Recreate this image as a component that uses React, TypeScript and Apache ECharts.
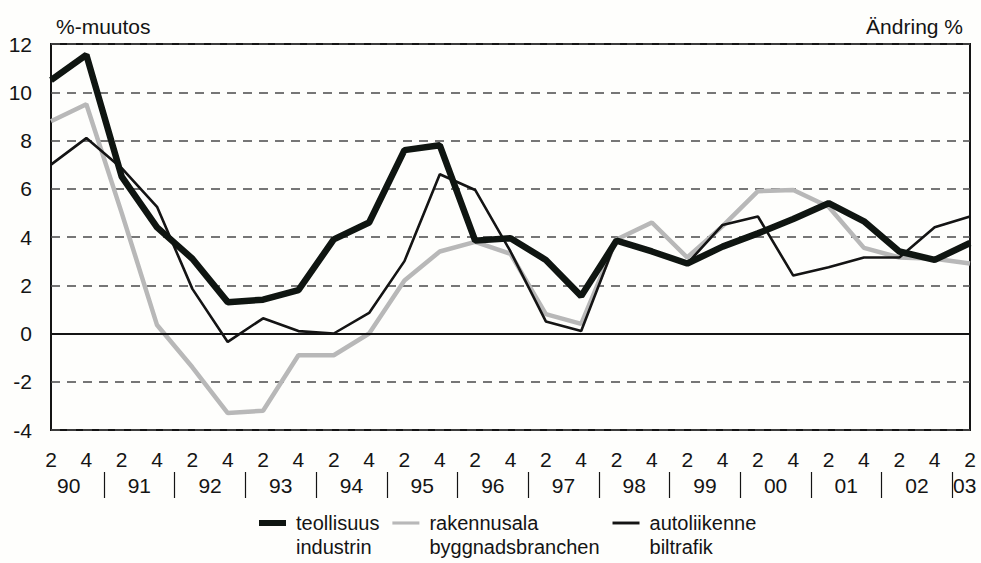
import React, { useEffect, useRef } from "react";
import * as echarts from "echarts";

const quarterLabels = ["2","4","2","4","2","4","2","4","2","4","2","4","2","4","2","4","2","4","2","4","2","4","2","4","2","4","2"];
const yearLabels = ["90","91","92","93","94","95","96","97","98","99","00","01","02","03"];
const yearLabelPositions = [0.5,2.5,4.5,6.5,8.5,10.5,12.5,14.5,16.5,18.5,20.5,22.5,24.5,25.85];
const yearSeparators = [1.5,3.5,5.5,7.5,9.5,11.5,13.5,15.5,17.5,19.5,21.5,23.5,25.5];

const teollisuus = [10.5, 11.55, 6.5, 4.4, 3.1, 1.3, 1.4, 1.8, 3.9, 4.6, 7.6, 7.8, 3.85, 3.95, 3.05, 1.55, 3.85, 3.4, 2.9, 3.6, 4.15, 4.75, 5.4, 4.65, 3.4, 3.05, 3.75];
const rakennusala = [8.8, 9.5, 5.0, 0.35, -1.4, -3.3, -3.2, -0.9, -0.9, 0.0, 2.2, 3.4, 3.8, 3.3, 0.8, 0.4, 3.9, 4.6, 3.15, 4.45, 5.9, 5.95, 5.25, 3.55, 3.15, 3.1, 2.9];
const autoliikenne = [7.0, 8.1, 6.85, 5.25, 1.85, -0.35, 0.63, 0.1, 0.0, 0.85, 3.0, 6.6, 5.95, 3.4, 0.5, 0.1, 3.9, 3.45, 2.9, 4.5, 4.85, 2.4, 2.75, 3.15, 3.15, 4.4, 4.85];

const seriesNames = ["teollisuus\nindustrin", "rakennusala\nbyggnadsbranchen", "autoliikenne\nbiltrafik"];

const FONT = "'Liberation Sans', Arial, Helvetica, sans-serif";
const INK = "#141414";
const THICK = "#0f1511";
const GREY = "#b8b8b8";

export default function App() {
  const ref = useRef<HTMLDivElement>(null);
  useEffect(() => {
    if (!ref.current) return;
    const chart = echarts.init(ref.current, undefined, { renderer: "svg" });
    chart.setOption({
      animation: false,
      backgroundColor: "#fefefc",
      textStyle: { fontFamily: FONT, color: INK },
      title: [
        { text: "%-muutos", left: 51, top: 11, textStyle: { fontSize: 21, fontWeight: "normal", color: INK, fontFamily: FONT } },
        { text: "Ändring %", right: 13, top: 11, textStyle: { fontSize: 21, fontWeight: "normal", color: INK, fontFamily: FONT } },
      ],
      grid: { left: 51, right: 11, top: 44, bottom: 133, show: true, borderColor: INK, borderWidth: 2, backgroundColor: "transparent" },
      legend: {
        left: 254,
        top: 482,
        itemWidth: 27,
        itemHeight: 6,
        itemGap: 13,
        data: [
          { name: seriesNames[0], icon: "path://M0 0H27V6H0Z" },
          { name: seriesNames[1], icon: "path://M0 0H26V3H0Z" },
          { name: seriesNames[2], icon: "path://M0 0H24V2.6H0Z" },
        ],
        formatter: (name: string) => "\n" + name,
        textStyle: { fontSize: 20, fontFamily: FONT, color: INK, lineHeight: 24, padding: [0, 0, 0, 5] },
      },
      xAxis: [
        {
          type: "category",
          data: quarterLabels,
          boundaryGap: false,
          axisLine: { show: false },
          axisTick: { show: false },
          splitLine: { show: false },
          axisLabel: { interval: 0, fontSize: 21, color: INK, margin: 19, fontFamily: FONT },
        },
        {
          type: "value",
          min: 0,
          max: 26,
          position: "bottom",
          offset: 42,
          axisLine: { show: false },
          splitLine: { show: false },
          axisTick: { show: true, inside: false, length: 26, customValues: yearSeparators, lineStyle: { color: INK, width: 1.2 } },
          axisLabel: {
            show: true,
            fontSize: 21,
            color: INK,
            margin: 3,
            fontFamily: FONT,
            customValues: yearLabelPositions,
            formatter: (v: number) => {
              const idx = yearLabelPositions.findIndex((p) => Math.abs(p - v) < 1e-6);
              return idx >= 0 ? yearLabels[idx] : "";
            },
          },
        },
      ],
      yAxis: {
        type: "value",
        min: -4,
        max: 12,
        interval: 2,
        axisLine: { show: false },
        axisTick: { show: false },
        axisLabel: { fontSize: 21, color: INK, margin: 19, fontFamily: FONT },
        splitLine: { show: true, lineStyle: { color: "#4a4a4a", width: 1.5, type: [9, 7] } },
      },
      series: [
        {
          name: seriesNames[1],
          type: "line",
          data: rakennusala,
          symbol: "none",
          lineStyle: { color: GREY, width: 4.5 },
          itemStyle: { color: GREY },
          z: 2,
          markLine: {
            silent: true,
            symbol: "none",
            label: { show: false },
            lineStyle: { color: INK, width: 2, type: "solid" },
            data: [{ yAxis: 0 }],
          },
        },
        {
          name: seriesNames[2],
          type: "line",
          data: autoliikenne,
          symbol: "none",
          lineStyle: { color: INK, width: 2.6 },
          itemStyle: { color: INK },
          z: 3,
        },
        {
          name: seriesNames[0],
          type: "line",
          data: teollisuus,
          symbol: "none",
          lineStyle: { color: THICK, width: 6.5 },
          itemStyle: { color: THICK },
          z: 4,
        },
      ],
    });
    return () => chart.dispose();
  }, []);
  return <div ref={ref} style={{ width: 981, height: 563, position: "absolute", left: 0, top: 0 }} />;
}
